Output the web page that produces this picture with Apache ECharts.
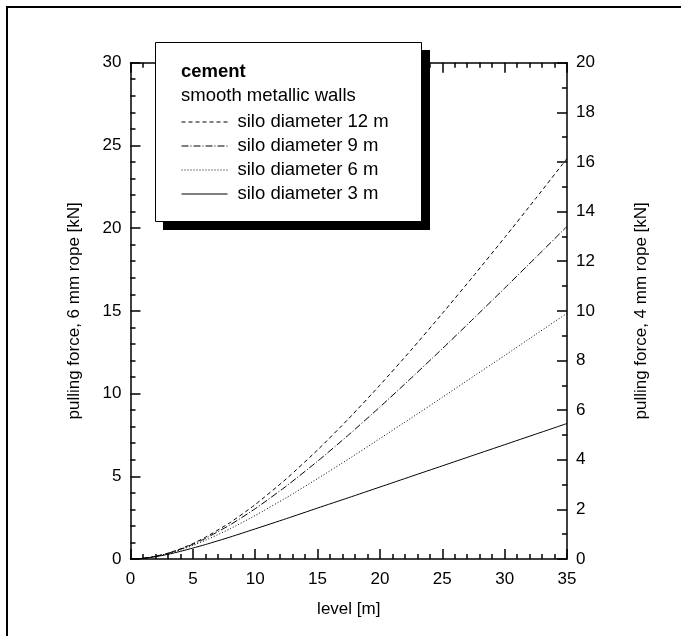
<!DOCTYPE html>
<html>
<head>
<meta charset="utf-8">
<script src="https://cdn.jsdelivr.net/npm/echarts@6/dist/echarts.min.js"></script>
<style>html,body{margin:0;padding:0;background:#fff;}#c{width:681px;height:636px;}</style>
</head>
<body>
<div id="c"></div>
<script>
var level = [0,1,2,3,4,5,6,8,10,12.5,15,17.5,20,22.5,25,27.5,30,32.5,35];
var d12 = [0,0.04,0.16,0.35,0.61,0.93,1.31,2.21,3.29,4.85,6.59,8.49,10.51,12.63,14.84,17.11,19.43,21.80,24.21];
var d9  = [0,0.04,0.16,0.34,0.59,0.89,1.24,2.07,3.04,4.41,5.91,7.51,9.19,10.93,12.71,14.53,16.37,18.23,20.10];
var d6  = [0,0.04,0.15,0.33,0.55,0.82,1.13,1.83,2.63,3.71,4.86,6.05,7.28,8.52,9.77,11.04,12.30,13.58,14.85];
var d3  = [0,0.04,0.14,0.28,0.46,0.66,0.87,1.33,1.82,2.44,3.08,3.71,4.35,4.99,5.63,6.27,6.91,7.55,8.19];
var seriesNames = ['silo diameter 12 m','silo diameter 9 m','silo diameter 6 m','silo diameter 3 m'];
var xTicks = {min:0, max:35, interval:5};
var yLeftTicks = {min:0, max:30, interval:5};
var yRightTicks = {min:0, max:20, interval:2};

function pairs(ys){ return level.map(function(x,i){ return [x, ys[i]]; }); }

var FONT = 'Liberation Sans, Arial, sans-serif';
var chart = echarts.init(document.getElementById('c'), null, {renderer:'canvas'});
var lab = {color:'#000', fontSize:17, fontFamily:FONT};
var axisLine = {show:true, onZero:false, lineStyle:{color:'#000', width:1.5}};
var tickStyle = {color:'#000', width:1.5};

var styles = [
  {type:[4,3]},
  {type:[7,2,1,2]},
  {type:[1,2]},
  {type:'solid'}
];
var datas = [d12,d9,d6,d3];

chart.setOption({
  animation:false,
  backgroundColor:'#fff',
  grid:{left:130.5, right:114, top:62.7, bottom:77},
  xAxis:[{
    type:'value', min:xTicks.min, max:xTicks.max, interval:xTicks.interval, position:'bottom',
    name:'level [m]', nameLocation:'middle', nameGap:42, nameTextStyle:lab,
    axisLine:axisLine, axisLabel:Object.assign({margin:12}, lab),
    axisTick:{show:true, inside:true, length:10, lineStyle:tickStyle},
    minorTick:{show:true, splitNumber:5, length:5, lineStyle:tickStyle},
    splitLine:{show:false}
  },{
    type:'value', min:xTicks.min, max:xTicks.max, interval:xTicks.interval, position:'top',
    axisLine:axisLine, axisLabel:{show:false},
    axisTick:{show:true, inside:true, length:10, lineStyle:tickStyle},
    minorTick:{show:true, splitNumber:5, length:5, lineStyle:tickStyle},
    splitLine:{show:false}
  }],
  yAxis:[{
    type:'value', min:yLeftTicks.min, max:yLeftTicks.max, interval:yLeftTicks.interval, position:'left',
    name:'pulling force, 6 mm rope [kN]', nameLocation:'middle', nameGap:48, nameTextStyle:lab,
    axisLine:axisLine, axisLabel:Object.assign({margin:9}, lab),
    axisTick:{show:true, inside:true, length:10, lineStyle:tickStyle},
    minorTick:{show:true, splitNumber:5, length:5, lineStyle:tickStyle},
    splitLine:{show:false}
  },{
    type:'value', min:yRightTicks.min, max:yRightTicks.max, interval:yRightTicks.interval, position:'right',
    name:'pulling force, 4 mm rope [kN]', nameLocation:'middle', nameGap:66, nameRotate:90, nameTextStyle:lab,
    axisLine:axisLine, axisLabel:Object.assign({margin:9}, lab),
    axisTick:{show:true, inside:true, length:10, lineStyle:tickStyle},
    minorTick:{show:true, splitNumber:2, length:5, lineStyle:tickStyle},
    splitLine:{show:false}
  }],
  legend:{
    orient:'vertical', left:181, top:112.5, padding:0, itemWidth:46, itemHeight:18, itemGap:5, z:200,
    itemStyle:{opacity:0},
    lineStyle:{width:1},
    textStyle:{color:'#000', fontSize:18.5, fontFamily:FONT, padding:[0,0,0,5]},
    data:seriesNames, selectedMode:false
  },
  graphic:[
    {type:'rect', shape:{x:7, y:7, width:1000, height:1000}, style:{fill:'none', stroke:'#000', lineWidth:2}, z:-1},
    {type:'rect', shape:{x:163, y:50, width:267, height:180}, style:{fill:'#000'}, z:100},
    {type:'rect', shape:{x:155.5, y:42.5, width:266, height:179}, style:{fill:'#fff', stroke:'#000', lineWidth:1}, z:101},
    {type:'text', x:181, y:72, style:{text:'cement', font:'bold 18.5px '+FONT, fill:'#000', verticalAlign:'middle'}, z:102},
    {type:'text', x:181, y:96, style:{text:'smooth metallic walls', font:'18.5px '+FONT, fill:'#000', verticalAlign:'middle'}, z:102}
  ],
  series: datas.map(function(d,i){
    return {
      name:seriesNames[i], type:'line', xAxisIndex:0, yAxisIndex:0, data:pairs(d),
      symbol:'none', smooth:0.2, z:2,
      lineStyle:{color:'#000', width:1, type:styles[i].type},
      itemStyle:{color:'#000'}
    };
  })
});
</script>
</body>
</html>
